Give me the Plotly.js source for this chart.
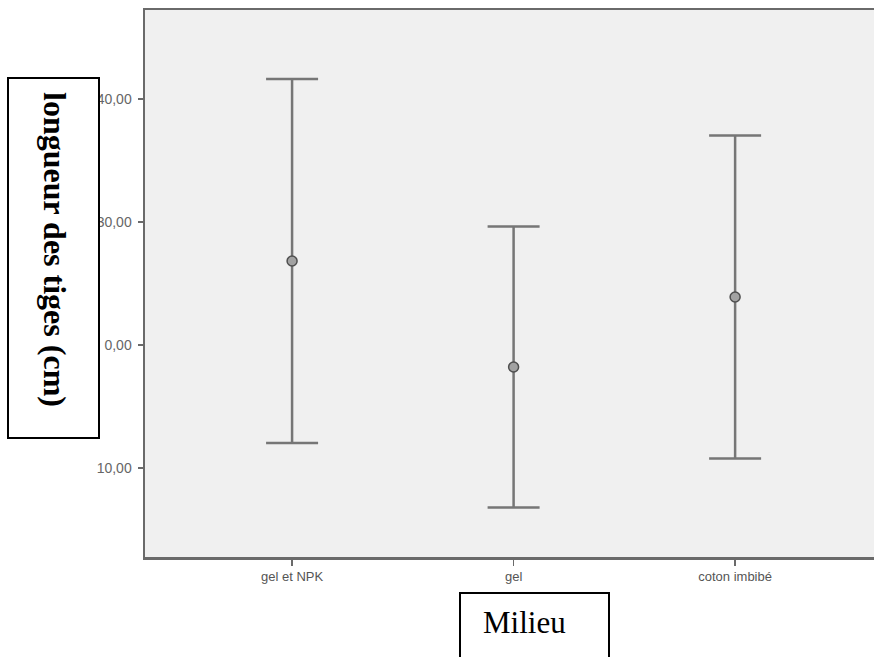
<!DOCTYPE html>
<html>
<head>
<meta charset="utf-8">
<script src="https://cdn.plot.ly/plotly-3.0.1.min.js"></script>
<style>
  html, body { margin: 0; padding: 0; background: #ffffff; }
  #chart { width: 874px; height: 657px; }
</style>
</head>
<body>
<div id="chart"></div>
<script>
// Growing medium (x categories)
const milieux = ['gel et NPK', 'gel', 'coton imbibé'];
// Mean stem length (cm) and half-width of the error bar
const moyennes = [26.83, 18.21, 23.90];
const demiIntervalles = [14.80, 11.42, 13.13];
// Y axis ticks (the label at 20 is partly hidden behind the title box)
const yTickVals = [10, 20, 30, 40];
const yTickText = ['10,00', '0,00', '30,00', '40,00'];

const W = 874, H = 657;
const M = { l: 145, r: 0, t: 10, b: 100 };
const PW = W - M.l - M.r, PH = H - M.t - M.b;
// pixel -> paper helpers for the overlay boxes
const px = v => (v - M.l) / PW;
const py = v => (H - M.b - v) / PH;

const trace = {
  type: 'scatter',
  mode: 'markers',
  x: milieux,
  y: moyennes,
  marker: { symbol: 'circle', size: 10, color: '#a2a2a2', line: { color: '#4f4f4f', width: 1.5 } },
  error_y: {
    type: 'data',
    array: demiIntervalles,
    visible: true,
    color: '#767676',
    thickness: 2.5,
    width: 26
  },
  hoverinfo: 'x+y'
};

const layout = {
  width: W,
  height: H,
  margin: M,
  paper_bgcolor: '#ffffff',
  plot_bgcolor: '#f0f0f0',
  showlegend: false,
  font: { family: 'Arial, "Liberation Sans", sans-serif', color: '#555555' },
  xaxis: {
    type: 'category',
    range: [-0.664, 2.627],
    showgrid: false,
    zeroline: false,
    showline: true,
    mirror: true,
    linecolor: '#6a6a6a',
    linewidth: 2.5,
    ticks: 'outside',
    ticklen: 6,
    tickwidth: 1.5,
    tickcolor: '#6a6a6a',
    tickfont: { size: 13, color: '#555555' }
  },
  yaxis: {
    range: [2.76, 47.24],
    tickvals: yTickVals,
    ticktext: yTickText,
    showgrid: false,
    zeroline: false,
    showline: true,
    linecolor: '#6a6a6a',
    linewidth: 2.5,
    ticks: 'outside',
    ticklen: 5,
    tickwidth: 1.5,
    tickcolor: '#6a6a6a',
    ticklabelstandoff: 3,
    tickfont: { size: 14, color: '#666666' }
  },
  shapes: [
    {
      type: 'rect', xref: 'paper', yref: 'paper', layer: 'above',
      x0: px(8), x1: px(99), y0: py(438), y1: py(78),
      fillcolor: '#ffffff', line: { color: '#000000', width: 2 }
    },
    {
      type: 'rect', xref: 'paper', yref: 'paper', layer: 'above',
      x0: px(460), x1: px(609), y0: py(662), y1: py(593),
      fillcolor: '#ffffff', line: { color: '#000000', width: 2 }
    }
  ],
  annotations: [
    {
      xref: 'paper', yref: 'paper',
      x: px(55), y: py(249),
      xanchor: 'center', yanchor: 'middle',
      text: '<b>longueur des tiges (cm)</b>',
      textangle: 90,
      showarrow: false,
      font: { family: '"Liberation Serif", "Times New Roman", serif', size: 32, color: '#000000' }
    },
    {
      xref: 'paper', yref: 'paper',
      x: px(481), y: py(622),
      xanchor: 'left', yanchor: 'middle',
      text: 'Milieu',
      showarrow: false,
      font: { family: '"Liberation Serif", "Times New Roman", serif', size: 31, color: '#000000' }
    }
  ]
};

Plotly.newPlot('chart', [trace], layout, { displayModeBar: false, staticPlot: true });
</script>
</body>
</html>
